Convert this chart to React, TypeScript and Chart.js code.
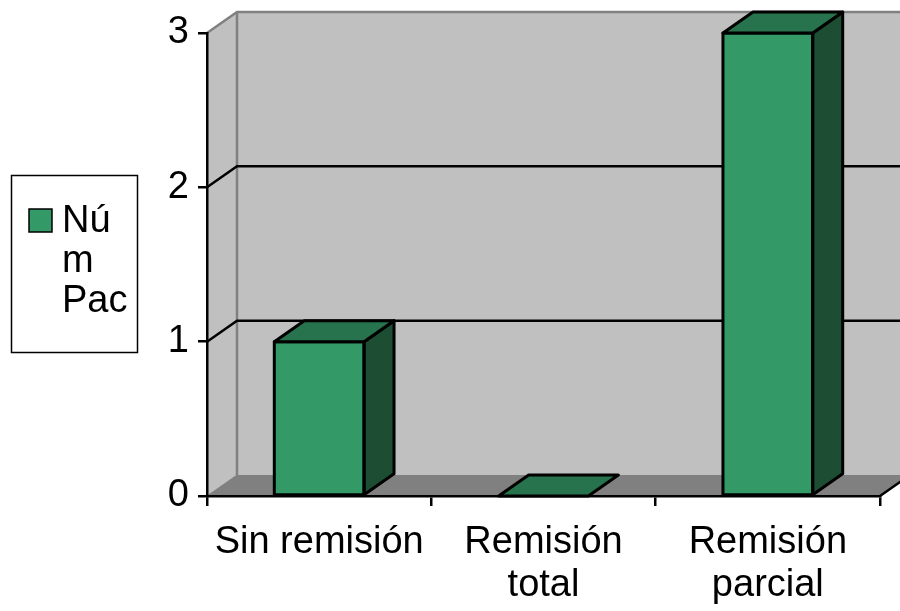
import React, { useEffect, useRef } from 'react';
import { Chart, registerables } from 'chart.js';

Chart.register(...registerables);

const categories: string[][] = [['Sin remisión'], ['Remisión', 'total'], ['Remisión', 'parcial']];
const seriesName = 'Núm Pac';
const legendLines = ['Nú', 'm', 'Pac'];
const values = [1, 0, 3];
const yMin = 0;
const yMax = 3;
const yStep = 1;

const FONT = '"Liberation Sans", Arial, Helvetica, sans-serif';
const DX = 30;
const DY = -21;
const FRONT = '#339966';
const TOP = '#26734d';
const SIDE = '#1d4d33';
const WALL = '#c0c0c0';
const FLOOR = '#808080';

const threeD = {
  id: 'threeD',
  beforeDraw(chart: any) {
    const { ctx, chartArea: a, scales } = chart;
    const y = scales.y;
    const L = a.left, R = a.right, T = a.top, B = a.bottom;
    ctx.save();
    ctx.fillStyle = WALL;
    ctx.fillRect(L + DX, T + DY, R - L + 40, B - T);
    ctx.beginPath();
    ctx.moveTo(L, B);
    ctx.lineTo(L + DX, B + DY);
    ctx.lineTo(L + DX, T + DY);
    ctx.lineTo(L, T);
    ctx.closePath();
    ctx.fill();
    ctx.fillStyle = FLOOR;
    ctx.beginPath();
    ctx.moveTo(L, B);
    ctx.lineTo(L + DX, B + DY);
    ctx.lineTo(R + DX + 40, B + DY);
    ctx.lineTo(R + 40, B);
    ctx.closePath();
    ctx.fill();
    ctx.fillStyle = '#ffffff';
    ctx.beginPath();
    ctx.moveTo(R, B);
    ctx.lineTo(R + DX, B + DY);
    ctx.lineTo(R + DX + 60, B + DY);
    ctx.lineTo(R + 60, B + 40);
    ctx.lineTo(R, B + 40);
    ctx.closePath();
    ctx.fill();
    ctx.strokeStyle = '#808080';
    ctx.lineWidth = 2.5;
    ctx.beginPath();
    ctx.moveTo(L, T);
    ctx.lineTo(L + DX, T + DY);
    ctx.lineTo(R + DX + 40, T + DY);
    ctx.moveTo(L + DX, T + DY);
    ctx.lineTo(L + DX, B + DY);
    ctx.stroke();
    ctx.lineWidth = 1;
    ctx.beginPath();
    ctx.moveTo(L, B);
    ctx.lineTo(L + DX, B + DY);
    ctx.stroke();
    ctx.strokeStyle = '#000';
    ctx.lineWidth = 2.5;
    for (let v = yMin + yStep; v < yMax; v += yStep) {
      const py = y.getPixelForValue(v);
      ctx.beginPath();
      ctx.moveTo(L, py);
      ctx.lineTo(L + DX, py + DY);
      ctx.lineTo(R + DX + 40, py + DY);
      ctx.stroke();
    }
    ctx.beginPath();
    ctx.moveTo(R, B);
    ctx.lineTo(R + DX, B + DY);
    ctx.stroke();
    ctx.restore();
  },
  afterDatasetsDraw(chart: any) {
    const { ctx } = chart;
    const meta = chart.getDatasetMeta(0);
    ctx.save();
    ctx.strokeStyle = '#000';
    ctx.lineWidth = 3;
    ctx.lineJoin = 'round';
    meta.data.forEach((el: any) => {
      const p = el.getProps(['x', 'y', 'base', 'width'], true);
      const x0 = p.x - p.width / 2;
      const x1 = p.x + p.width / 2;
      const yT = Math.min(p.y, p.base);
      const yB = Math.max(p.y, p.base);
      if (yB - yT > 1) {
        ctx.fillStyle = SIDE;
        ctx.beginPath();
        ctx.moveTo(x1, yT);
        ctx.lineTo(x1 + DX, yT + DY);
        ctx.lineTo(x1 + DX, yB + DY);
        ctx.lineTo(x1, yB);
        ctx.closePath();
        ctx.fill();
        ctx.stroke();
        ctx.strokeRect(x0, yT, x1 - x0, yB - yT);
      }
      ctx.fillStyle = TOP;
      ctx.beginPath();
      ctx.moveTo(x0, yT);
      ctx.lineTo(x0 + DX, yT + DY);
      ctx.lineTo(x1 + DX, yT + DY);
      ctx.lineTo(x1, yT);
      ctx.closePath();
      ctx.fill();
      ctx.stroke();
    });
    ctx.restore();
  },
  afterDraw(chart: any) {
    const { ctx } = chart;
    ctx.save();
    ctx.strokeStyle = '#000';
    ctx.lineWidth = 1.5;
    ctx.strokeRect(11.5, 175.5, 126, 177);
    ctx.fillStyle = FRONT;
    ctx.fillRect(29, 209, 23, 23);
    ctx.strokeRect(29, 209, 23, 23);
    ctx.fillStyle = '#000';
    ctx.font = `38px ${FONT}`;
    ctx.textBaseline = 'alphabetic';
    ctx.textAlign = 'left';
    legendLines.forEach((t, i) => {
      ctx.fillText(t, 62, 232 + i * 40);
    });
    ctx.restore();
  },
};

export default function App() {
  const ref = useRef<HTMLCanvasElement>(null);
  useEffect(() => {
    document.body.style.margin = '0';
    const chart = new Chart(ref.current as HTMLCanvasElement, {
      type: 'bar',
      data: {
        labels: categories,
        datasets: [
          {
            label: seriesName,
            data: values,
            backgroundColor: FRONT,
            borderColor: '#000',
            borderWidth: 0,
            borderSkipped: false,
            barPercentage: 0.4,
            categoryPercentage: 1,
          },
        ],
      },
      options: {
        animation: false,
        responsive: true,
        maintainAspectRatio: false,
        layout: { padding: { top: 33, right: 20, left: 0, bottom: 0 } },
        plugins: { legend: { display: false }, tooltip: { enabled: false } },
        scales: {
          x: {
            type: 'category',
            grid: { drawOnChartArea: false, drawTicks: true, tickLength: 10, color: '#000', lineWidth: 2.5, offset: true },
            border: { display: true, color: '#000', width: 2.5 },
            ticks: { font: { family: FONT, size: 38, lineHeight: 1.13 }, color: '#000', padding: 15, maxRotation: 0, autoSkip: false },
            afterFit: (s: any) => { s.height = 115; },
          },
          y: {
            min: yMin,
            max: yMax,
            ticks: { stepSize: yStep, font: { family: FONT, size: 38 }, color: '#000', padding: 9 },
            grid: { drawOnChartArea: false, drawTicks: true, tickLength: 9, color: '#000', lineWidth: 2.5 },
            border: { display: true, color: '#000', width: 2.5 },
            afterFit: (s: any) => { s.width = 207; },
          },
        },
      },
      plugins: [threeD],
    });
    return () => chart.destroy();
  }, []);
  return (
    <div style={{ position: 'fixed', left: 0, top: 0, width: 900, height: 611 }}>
      <canvas ref={ref} />
    </div>
  );
}
